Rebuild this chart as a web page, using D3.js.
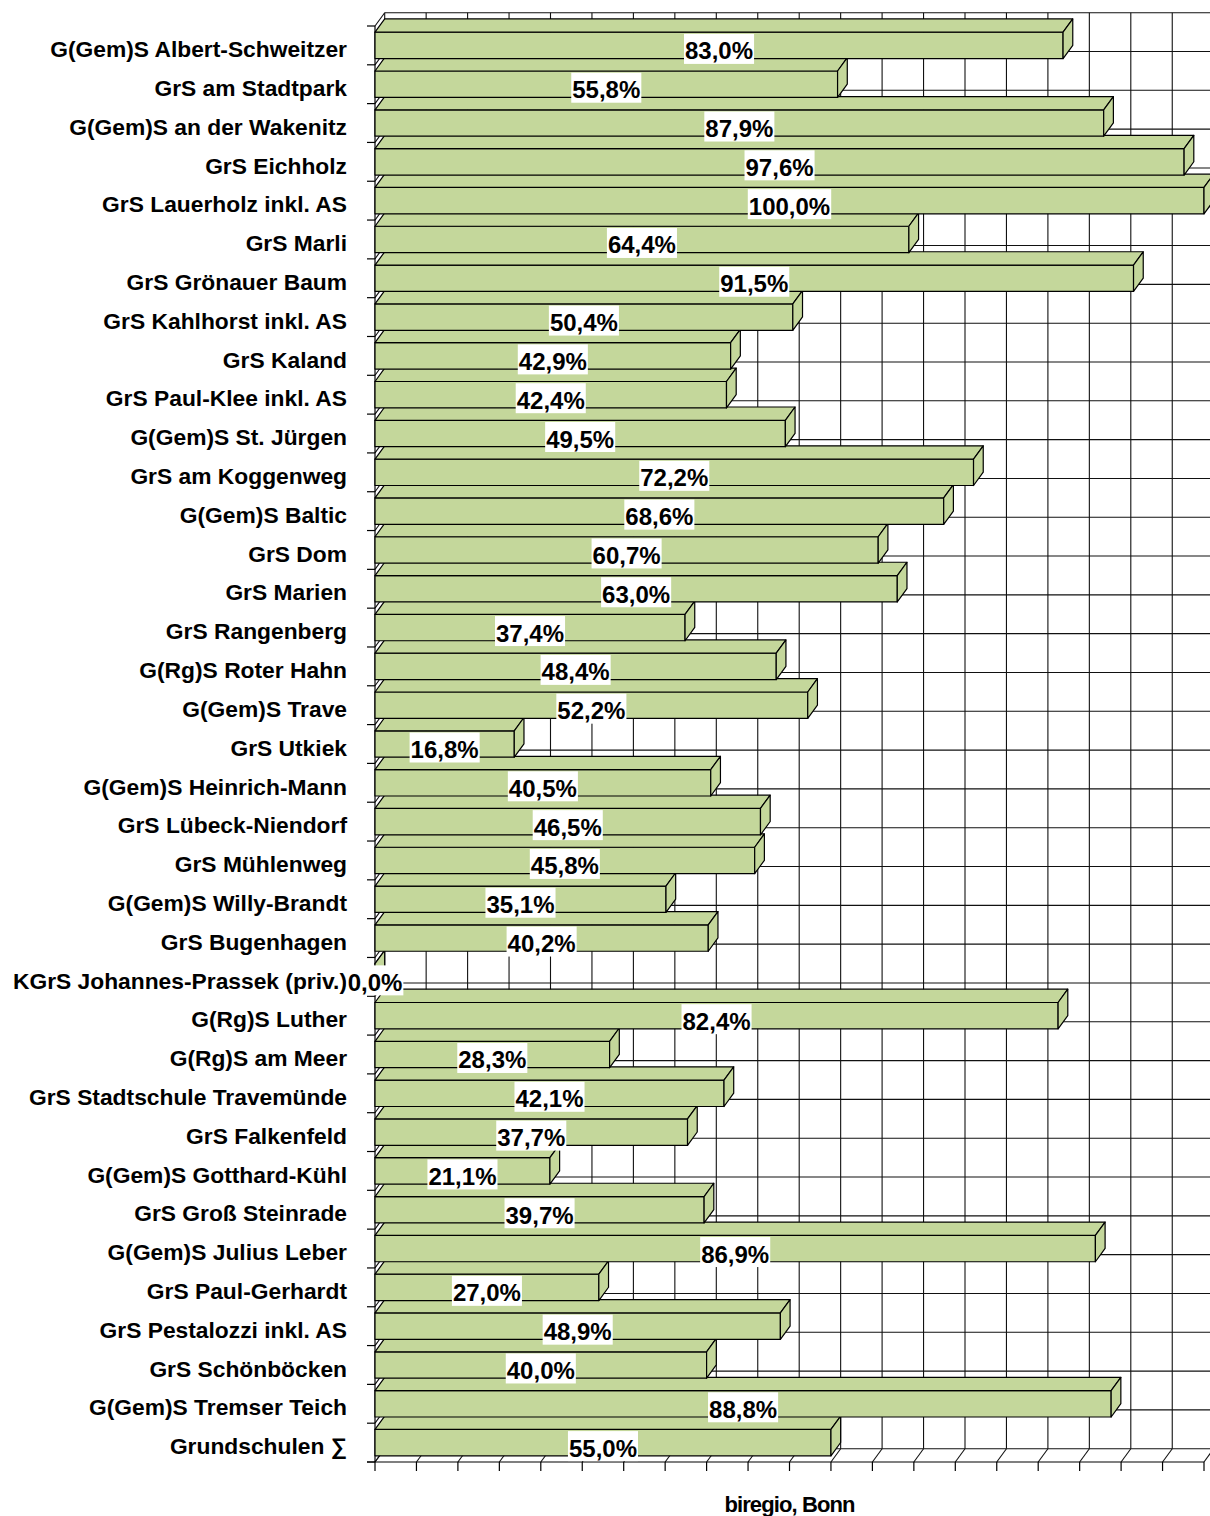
<!DOCTYPE html>
<html>
<head>
<meta charset="utf-8">
<script src="https://cdn.jsdelivr.net/npm/d3@7"></script>
<style>
	body { margin: 0; background: #fff; }
	text { font-family: "Liberation Sans", Arial, sans-serif; font-weight: bold; fill: #000; }
</style>
</head>
<body>
<script>
//school names, top to bottom
var categories = [
	"G(Gem)S Albert-Schweitzer",
	"GrS am Stadtpark",
	"G(Gem)S an der Wakenitz",
	"GrS Eichholz",
	"GrS Lauerholz inkl. AS",
	"GrS Marli",
	"GrS Grönauer Baum",
	"GrS Kahlhorst inkl. AS",
	"GrS Kaland",
	"GrS Paul-Klee inkl. AS",
	"G(Gem)S St. Jürgen",
	"GrS am Koggenweg",
	"G(Gem)S Baltic",
	"GrS Dom",
	"GrS Marien",
	"GrS Rangenberg",
	"G(Rg)S Roter Hahn",
	"G(Gem)S Trave",
	"GrS Utkiek",
	"G(Gem)S Heinrich-Mann",
	"GrS Lübeck-Niendorf",
	"GrS Mühlenweg",
	"G(Gem)S Willy-Brandt",
	"GrS Bugenhagen",
	"KGrS Johannes-Prassek (priv.)",
	"G(Rg)S Luther",
	"G(Rg)S am Meer",
	"GrS Stadtschule Travemünde",
	"GrS Falkenfeld",
	"G(Gem)S Gotthard-Kühl",
	"GrS Groß Steinrade",
	"G(Gem)S Julius Leber",
	"GrS Paul-Gerhardt",
	"GrS Pestalozzi inkl. AS",
	"GrS Schönböcken",
	"G(Gem)S Tremser Teich",
	"Grundschulen \u2211"
];

//percent values, same order
var values = [
	83.0, 55.8, 87.9, 97.6, 100.0, 64.4, 91.5, 50.4, 42.9, 42.4,
	49.5, 72.2, 68.6, 60.7, 63.0, 37.4, 48.4, 52.2, 16.8, 40.5,
	46.5, 45.8, 35.1, 40.2, 0.0, 82.4, 28.3, 42.1, 37.7, 21.1,
	39.7, 86.9, 27.0, 48.9, 40.0, 88.8, 55.0
];

//value axis: 0..100 with gridlines every 5 (no tick labels shown)
var xDomain = [0, 100];
var xTickValues = [0, 5, 10, 15, 20, 25, 30, 35, 40, 45, 50, 55, 60, 65, 70, 75, 80, 85, 90, 95, 100];

var source = "biregio, Bonn";

var data = categories.map(function(c, i){
	return { name: c, value: values[i] };
});

window.onload = function(){
	var w = 1210, h = 1516;
	var dx = 9.7, dy = -13.3; //3d depth offset
	var barFill = "#c4d79b";

	var svg = d3.select("body")
		.append("svg")
		.attr("width", w)
		.attr("height", h);

	var x = d3.scaleLinear()
		.domain(xDomain)
		.range([375, 1204]);

	var y = d3.scaleBand()
		.domain(categories)
		.range([26, 1462])
		.paddingInner(0.32)
		.paddingOuter(0.16);

	var top = y.range()[0], bottom = y.range()[1];
	var step = y.step(), bw = y.bandwidth();
	var x0 = x(0);

	//category boundaries
	var bounds = d3.range(categories.length + 1).map(function(i){ return top + i * step; });

	var grid = svg.append("g")
		.attr("class", "grid")
		.attr("fill", "none")
		.attr("stroke", "#111")
		.attr("stroke-width", 1.1);

	//back wall verticals
	grid.selectAll(".vgrid")
		.data(xTickValues)
		.enter()
		.append("line")
		.attr("class", "vgrid")
		.attr("x1", function(d){ return x(d) + dx; })
		.attr("x2", function(d){ return x(d) + dx; })
		.attr("y1", top + dy)
		.attr("y2", bottom + dy);

	//back wall horizontals
	grid.selectAll(".hgrid")
		.data(bounds)
		.enter()
		.append("line")
		.attr("class", "hgrid")
		.attr("x1", x0 + dx)
		.attr("x2", x(100) + dx)
		.attr("y1", function(d){ return d + dy; })
		.attr("y2", function(d){ return d + dy; });

	//side wall slants
	grid.selectAll(".sgrid")
		.data(bounds)
		.enter()
		.append("line")
		.attr("class", "sgrid")
		.attr("x1", x0)
		.attr("x2", x0 + dx)
		.attr("y1", function(d){ return d; })
		.attr("y2", function(d){ return d + dy; });

	//floor slants
	grid.selectAll(".fgrid")
		.data(xTickValues)
		.enter()
		.append("line")
		.attr("class", "fgrid")
		.attr("x1", function(d){ return x(d); })
		.attr("x2", function(d){ return x(d) + dx; })
		.attr("y1", bottom)
		.attr("y2", bottom + dy);

	//axes
	var axes = svg.append("g")
		.attr("stroke", "#000")
		.attr("stroke-width", 1.2);

	axes.append("line")
		.attr("x1", x0).attr("x2", x0)
		.attr("y1", top).attr("y2", bottom);
	axes.append("line")
		.attr("x1", x0 - 8).attr("x2", x(100))
		.attr("y1", bottom).attr("y2", bottom);
	axes.selectAll(".ytick")
		.data(bounds)
		.enter()
		.append("line")
		.attr("x1", x0 - 8).attr("x2", x0)
		.attr("y1", function(d){ return d; })
		.attr("y2", function(d){ return d; });
	axes.selectAll(".xtick")
		.data(xTickValues)
		.enter()
		.append("line")
		.attr("x1", function(d){ return x(d); })
		.attr("x2", function(d){ return x(d); })
		.attr("y1", bottom)
		.attr("y2", bottom + 9);

	//bars, drawn bottom first so upper bars cover shared edges
	var bars = svg.append("g")
		.attr("class", "bars")
		.attr("fill", barFill)
		.attr("stroke", "#000")
		.attr("stroke-width", 1.2)
		.attr("stroke-linejoin", "round")
		.selectAll(".bar")
		.data(data.slice().reverse())
		.enter()
		.append("g")
		.attr("class", "bar");

	bars.append("rect")
		.filter(function(d){ return d.value > 0; })
		.attr("x", x0)
		.attr("y", function(d){ return y(d.name); })
		.attr("width", function(d){ return x(d.value) - x0; })
		.attr("height", bw);

	bars.append("polygon")
		.attr("points", function(d){
			var t = y(d.name), e = x(d.value);
			return [[x0, t], [x0 + dx, t + dy], [e + dx, t + dy], [e, t]].join(" ");
		});

	bars.append("polygon")
		.attr("points", function(d){
			var t = y(d.name), e = x(d.value);
			return [[e, t], [e + dx, t + dy], [e + dx, t + bw + dy], [e, t + bw]].join(" ");
		});

	//category labels
	svg.selectAll(".catLabel")
		.data(data)
		.enter()
		.append("text")
		.attr("class", "catLabel")
		.attr("text-anchor", "end")
		.attr("x", 347)
		.attr("y", function(d){ return y(d.name) + bw / 2 + 11.7; })
		.style("font-size", "22.8px")
		.text(function(d){ return d.name; });

	//value labels with white boxes
	var fmt = d3.format(".1f");
	var vLabels = svg.selectAll(".valLabel")
		.data(data)
		.enter()
		.append("g")
		.attr("class", "valLabel");

	vLabels.append("text")
		.attr("text-anchor", "middle")
		.attr("x", function(d){ return (x0 + x(d.value)) / 2; })
		.attr("y", function(d){ return y(d.name) + bw / 2 + 14; })
		.style("font-size", "24px")
		.text(function(d){ return fmt(d.value).replace(".", ",") + "%"; });

	vLabels.insert("rect", "text")
		.attr("fill", "#fff")
		.each(function(d){
			var bb = this.parentNode.querySelector("text").getBBox();
			var base = y(d.name) + bw / 2 + 14;
			d3.select(this)
				.attr("x", bb.x - 1)
				.attr("width", bb.width + 2)
				.attr("y", base - 25.5)
				.attr("height", 30);
		});

	//source note
	svg.append("text")
		.attr("text-anchor", "middle")
		.attr("x", (x0 + x(100)) / 2)
		.attr("y", 1512)
		.style("font-size", "22px")
		.style("letter-spacing", "-0.9px")
		.text(source);
};
</script>
</body>
</html>
